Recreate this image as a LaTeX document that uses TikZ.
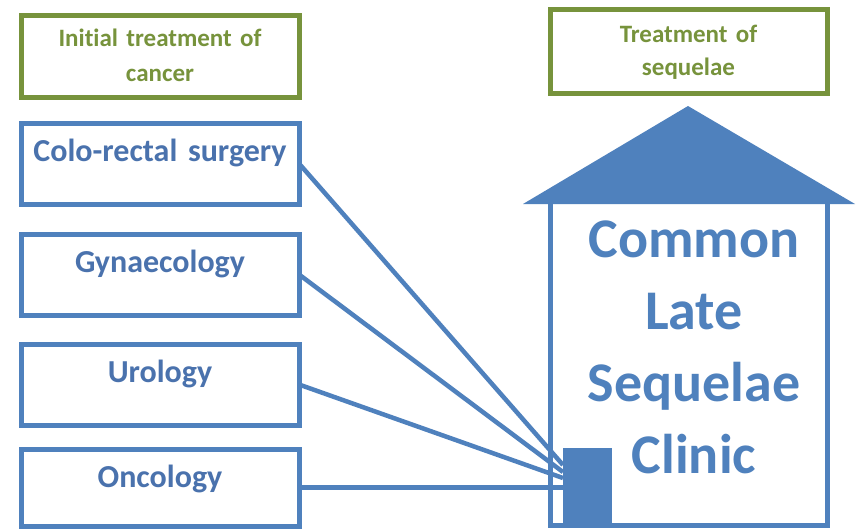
\documentclass[tikz,border=0pt]{standalone}
\usepackage{fontspec}
\setmainfont{Carlito}[Ligatures=NoCommon]
\usetikzlibrary{calc}
\definecolor{ublue}{HTML}{4F81BD}
\definecolor{tblue}{HTML}{4A72AD}
\definecolor{ugreen}{HTML}{77933C}
\begin{document}
\begin{tikzpicture}[x=1pt,y=-1pt,
  dept/.style={draw=ublue,line width=5pt,inner sep=0pt,outer sep=0pt,text width=278pt,align=center,text height=38pt,text depth=43pt,font=\fontsize{32}{38}\selectfont\bfseries,text=tblue},
  cat/.style={draw=ugreen,line width=5pt,inner sep=0pt,outer sep=0pt,align=center,text=ugreen},
  link/.style={draw=ublue,line width=4.5pt}]
\useasboundingbox (0,0) rectangle (858,528);
\fill[white] (0,0) rectangle (858,528);
% category boxes
\node[cat, anchor=north west, text width=278pt, text height=31pt, text depth=51pt, font=\fontsize{25}{35}\selectfont\bfseries] (init) at (21,15) {Initial treatment of\\cancer};
\node[cat, anchor=north west, text width=277pt, text height=33pt, text depth=51pt, font=\fontsize{25}{33}\selectfont\bfseries] (seq) at (550,9) {Treatment of\\sequelae};
% departments
\node[dept, anchor=north west] (colo) at (21,123) {Colo-rectal surgery};
\node[dept, anchor=north west] (gyn) at (21,234) {Gynaecology};
\node[dept, anchor=north west] (uro) at (21,344) {Urology};
\node[dept, anchor=north west, text depth=39pt] (onc) at (21,449) {Oncology};
% house
\coordinate (rl) at (523,204);
\coordinate (rr) at (855,204);
\coordinate (apex) at (688,106);
\fill[ublue] (rl) -- (apex) -- (rr) -- cycle;
\coordinate (wl) at (550,204);
\coordinate (wr) at (827,204);
\coordinate (bl) at (550,525);
\coordinate (br) at (827,525);
\draw[ublue,line width=5pt] (wl) -- (bl) -- (br) -- (wr);
\node[fill=ublue, inner sep=0pt, outer sep=0pt, minimum width=49pt, minimum height=80pt, anchor=north west] (door) at (563,448) {};
\node[text=ublue, font=\fontsize{56}{72}\selectfont\bfseries, text width=260pt, align=center, anchor=base, inner sep=0pt] (clinic) at (694,257) {Common\\Late\\Sequelae\\Clinic};
% connectors
\coordinate (d1) at ($(door.north west)+(0,17)$);
\coordinate (d2) at ($(door.north west)+(0,24)$);
\coordinate (d3) at ($(door.north west)+(0,30)$);
\coordinate (d4) at ($(door.north west)+(0,39.5)$);
\draw[link] (colo.east) -- (d1);
\draw[link] (gyn.east) -- (d2);
\draw[link] (uro.east) -- (d3);
\draw[link] (onc.east) -- (d4);
\end{tikzpicture}
\end{document}
